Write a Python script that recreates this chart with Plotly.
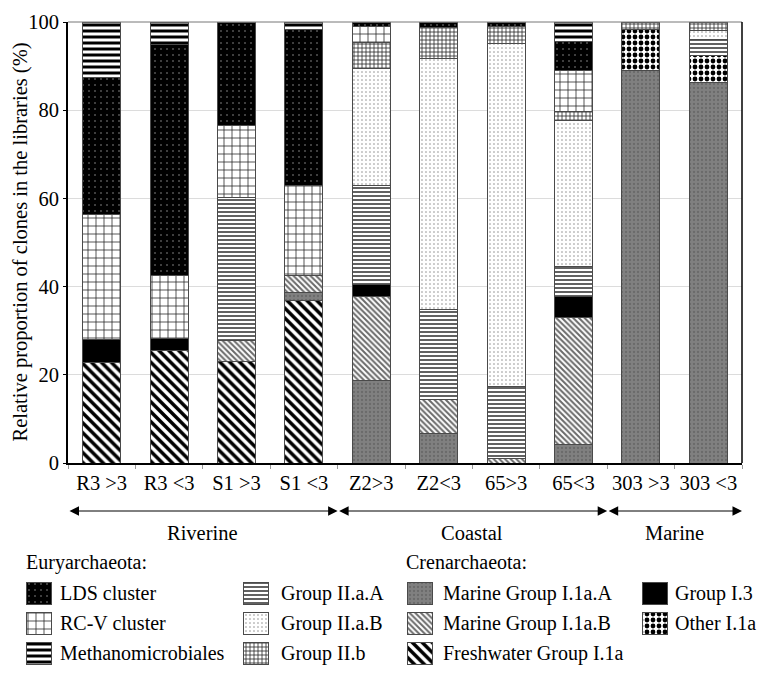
import plotly.graph_objects as go

# ---------------- data (percent of clones, stacked bottom -> top) ----------------
samples = ["R3 >3", "R3 <3", "S1 >3", "S1 <3", "Z2>3", "Z2<3", "65>3", "65<3", "303 >3", "303 <3"]

freshwater_i1a = [22.8, 25.5, 23.0, 36.8, 0, 0, 0, 0, 0, 0]
marine_i1a_a   = [0, 0, 0, 1.9, 18.8, 6.6, 0, 4.3, 89.1, 86.3]
marine_i1a_b   = [0, 0, 4.7, 3.8, 18.9, 7.9, 1.1, 28.7, 0, 0]
group_i3       = [5.1, 2.8, 0, 0, 2.7, 0, 0, 4.7, 0, 0]
other_i1a      = [0, 0, 0, 0, 0, 0, 0, 0, 9.1, 6.0]
group_iiaa     = [0, 0, 32.5, 0, 22.6, 20.4, 16.2, 6.8, 0, 3.8]
group_iiab     = [0, 0, 0, 0, 26.5, 56.9, 77.9, 33.1, 0, 1.9]
group_iib      = [0, 0, 0, 0, 5.8, 6.9, 3.7, 2.1, 1.8, 2.0]
rcv_cluster    = [28.5, 14.3, 16.4, 20.4, 3.6, 0, 0, 9.2, 0, 0]
lds_cluster    = [31.0, 52.2, 23.4, 35.4, 1.1, 1.3, 1.1, 6.6, 0, 0]
methano        = [12.6, 5.2, 0, 1.7, 0, 0, 0, 4.5, 0, 0]

regions = ["Riverine", "Coastal", "Marine"]
region_sizes = [4, 4, 2]

y_ticks = [0, 20, 40, 60, 80, 100]

series = [
    ("Freshwater Group I.1a", freshwater_i1a),
    ("Marine Group I.1a.A", marine_i1a_a),
    ("Marine Group I.1a.B", marine_i1a_b),
    ("Group I.3", group_i3),
    ("Other I.1a", other_i1a),
    ("Group II.a.A", group_iiaa),
    ("Group II.a.B", group_iiab),
    ("Group II.b", group_iib),
    ("RC-V cluster", rcv_cluster),
    ("LDS cluster", lds_cluster),
    ("Methanomicrobiales", methano),
]

# ---------------- styles ----------------
FONT = "Liberation Serif"
FS = 20.5
FS_LEG = 20
EDGE = "#4a4a4a"

styles = {
    "Freshwater Group I.1a": dict(shape="\\", fgcolor="black", bgcolor="white", size=7, solidity=0.5),
    "Marine Group I.1a.A": dict(shape=".", fgcolor="#6a6a6a", bgcolor="#808080", size=4, solidity=0.25),
    "Marine Group I.1a.B": dict(shape="\\", fgcolor="#6a6a6a", bgcolor="white", size=4, solidity=0.5),
    "Group I.3": dict(shape="", fgcolor="black", bgcolor="black"),
    "Other I.1a": dict(shape=".", fgcolor="black", bgcolor="white", size=6, solidity=0.5),
    "Group II.a.A": dict(shape="-", fgcolor="#3a3a3a", bgcolor="white", size=4, solidity=0.4),
    "Group II.a.B": dict(shape=".", fgcolor="#8a8a8a", bgcolor="white", size=4, solidity=0.12),
    "Group II.b": dict(shape="+", fgcolor="#202020", bgcolor="white", size=4, solidity=0.35),
    "RC-V cluster": dict(shape="+", fgcolor="#202020", bgcolor="white", size=8, solidity=0.18),
    "LDS cluster": dict(shape=".", fgcolor="#9a9a9a", bgcolor="black", size=6, solidity=0.05),
    "Methanomicrobiales": dict(shape="-", fgcolor="black", bgcolor="white", size=6, solidity=0.5),
}
solid_colors = {"Group I.3": "black"}

def marker_for(name):
    st = styles[name]
    m = dict(line=dict(color=EDGE, width=1))
    if st["shape"] == "":
        m["color"] = solid_colors.get(name, st["bgcolor"])
    else:
        m["color"] = st["bgcolor"]
        m["pattern"] = dict(shape=st["shape"], fgcolor=st["fgcolor"], bgcolor=st["bgcolor"],
                            size=st["size"], solidity=st["solidity"], fillmode="replace")
    return m

fig = go.Figure()
for name, vals in series:
    fig.add_trace(go.Bar(
        x=samples, y=[v if v else None for v in vals], name=name,
        marker=marker_for(name), showlegend=False, xaxis="x", yaxis="y",
    ))

# ---------------- layout geometry (screen pixels) ----------------
W, H = 767, 680
OX, OY = 8, 8          # page body margin offset of the rendered figure
PL, PR, PT, PB = 68, 742, 22, 463

def px(x):
    return (x - OX) / W

def py(y):
    return (H - (y - OY)) / H

# custom legend: swatches drawn as bars on a pixel-scaled hidden axis
legend_columns = [
    ["LDS cluster", "RC-V cluster", "Methanomicrobiales"],
    ["Group II.a.A", "Group II.a.B", "Group II.b"],
    ["Marine Group I.1a.A", "Marine Group I.1a.B", "Freshwater Group I.1a"],
    ["Group I.3", "Other I.1a"],
]
col_swatch_x = [26, 243, 407, 642]
col_text_x = [58, 279, 441, 673]
row_y = [593, 623, 653]
SW, SH = 25, 22
LEG_TOP = 545

annotations = []
for ci, col in enumerate(legend_columns):
    for ri, name in enumerate(col):
        fig.add_trace(go.Bar(
            x=[col_swatch_x[ci] - OX + SW / 2], y=[SH], base=[row_y[ri] - OY - SH / 2], width=[SW],
            marker=marker_for(name), showlegend=False, xaxis="x2", yaxis="y2", hoverinfo="skip",
        ))
        annotations.append(dict(
            text=name, x=px(col_text_x[ci]), y=py(row_y[ri]), xref="paper", yref="paper",
            xanchor="left", yanchor="middle", showarrow=False,
            font=dict(family=FONT, size=FS_LEG, color="black"),
        ))

for txt, xx in [("Euryarchaeota:", 24), ("Crenarchaeota:", 404)]:
    annotations.append(dict(
        text=txt, x=px(xx), y=py(562), xref="paper", yref="paper", xanchor="left", yanchor="middle",
        showarrow=False, font=dict(family=FONT, size=FS_LEG, color="black"),
    ))

# y axis title
annotations.append(dict(
    text="Relative proportion of clones in the libraries (%)", textangle=-90,
    x=px(20), y=py((PT + PB) / 2), xref="paper", yref="paper", xanchor="center", yanchor="middle",
    showarrow=False, font=dict(family=FONT, size=FS, color="black"),
))

# region arrows and labels
ARROW_Y = 511
LABEL_Y = 533
start = -0.5
for reg, n in zip(regions, region_sizes):
    end = start + n
    annotations.append(dict(
        text="", x=end, y=py(ARROW_Y), xref="x", yref="paper",
        ax=start, ay=0, axref="x", ayref="pixel",
        showarrow=True, arrowside="end+start", arrowhead=2, startarrowhead=2,
        arrowsize=1.9, startarrowsize=1.9, arrowwidth=1, arrowcolor="black", standoff=0, startstandoff=0,
    ))
    annotations.append(dict(
        text=reg, x=(start + end) / 2, y=py(LABEL_Y), xref="x", yref="paper",
        xanchor="center", yanchor="middle", showarrow=False,
        font=dict(family=FONT, size=FS, color="black"),
    ))
    start = end

shapes = [
    dict(type="line", xref="paper", yref="paper", x0=px(PL), x1=px(PR), y0=py(PT), y1=py(PT),
         line=dict(color="#777777", width=1)),
    dict(type="line", xref="paper", yref="paper", x0=px(PR), x1=px(PR), y0=py(PT), y1=py(PB),
         line=dict(color="black", width=1.5)),
]

fig.update_layout(
    width=W, height=H,
    margin=dict(l=0, r=0, t=0, b=0),
    paper_bgcolor="white", plot_bgcolor="white",
    barmode="stack", bargap=0.435,
    font=dict(family=FONT, size=FS, color="black"),
    xaxis=dict(
        domain=[px(PL), px(PR)], type="category", range=[-0.5, len(samples) - 0.5],
        showgrid=False, showline=True, linecolor="black", linewidth=2,
        ticks="outside", tickson="boundaries", ticklen=4, tickcolor="#999999",
        tickfont=dict(family=FONT, size=FS, color="black"), automargin=False, anchor="y",
    ),
    yaxis=dict(
        domain=[py(PB), py(PT)], range=[0, 100], tickvals=y_ticks,
        showgrid=True, gridcolor="#dcdcdc", gridwidth=1, zeroline=False,
        showline=True, linecolor="black", linewidth=2,
        ticks="outside", ticklen=3, tickcolor="black",
        tickfont=dict(family=FONT, size=FS, color="black"), automargin=False, anchor="x",
    ),
    xaxis2=dict(domain=[0, 1], range=[0, W], visible=False, anchor="y2", fixedrange=True),
    yaxis2=dict(domain=[0, py(LEG_TOP)], range=[H, (H - py(LEG_TOP) * H)], visible=False,
                anchor="x2", fixedrange=True),
    annotations=annotations,
    shapes=shapes,
    showlegend=False,
)

fig.write_html("out.html")
